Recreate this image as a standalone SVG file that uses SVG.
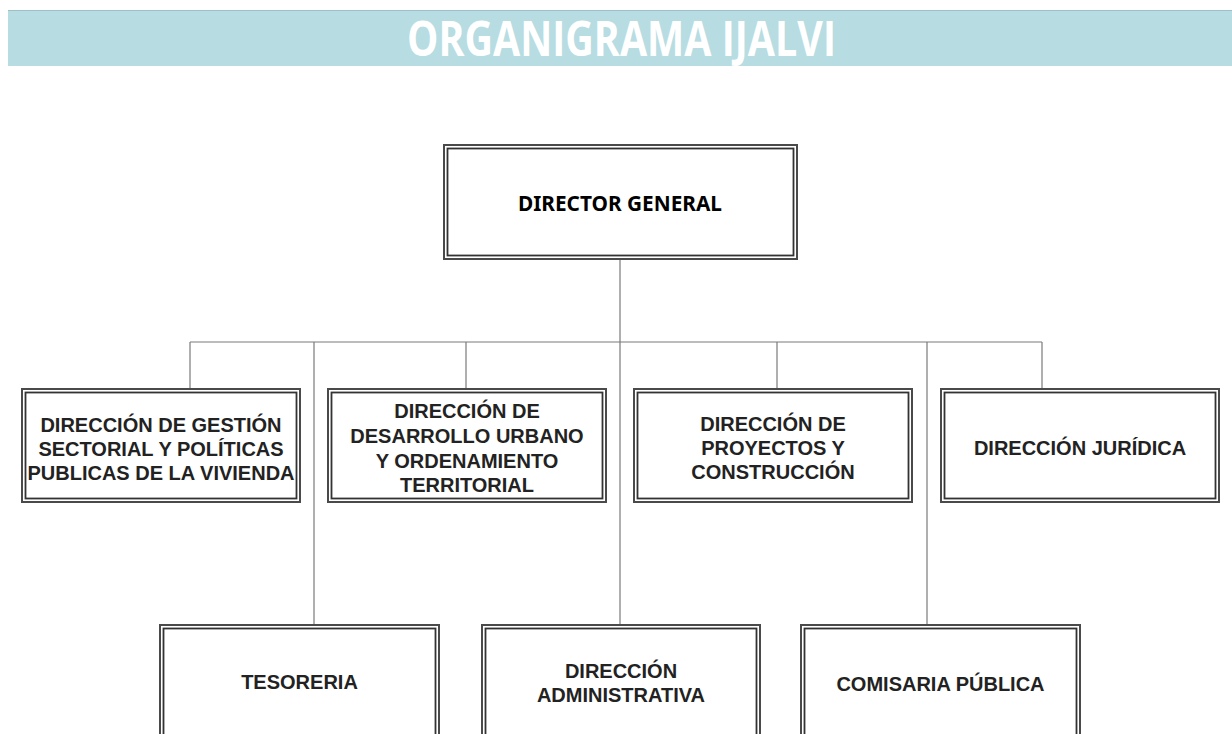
<svg xmlns="http://www.w3.org/2000/svg" width="1232" height="734" viewBox="0 0 1232 734">
<style>
.o{fill:#fff;stroke:#4a4a4a;stroke-width:2}
.i{fill:none;stroke:#333;stroke-width:1.8}
.t{font-family:"Liberation Sans",Arial,sans-serif;font-weight:bold;font-size:20px;fill:#222;text-anchor:middle}
.c{stroke:#7a7a7a;stroke-width:1.2;fill:none}
</style>
<rect x="0" y="0" width="1232" height="734" fill="#fff"/>
<g id="title">
<rect x="8" y="10" width="1224" height="56" fill="#b7dce1"/>
<line x1="8" y1="10.5" x2="1232" y2="10.5" stroke="#9fbfc4" stroke-width="1"/>
<text x="621.5" y="56" font-family="'Open Sans','Noto Sans',sans-serif" font-weight="bold" font-size="48" fill="#fff" text-anchor="middle" textLength="429" lengthAdjust="spacingAndGlyphs">ORGANIGRAMA IJALVI</text>
</g>
<g id="connectors">
<line class="c" x1="620" y1="259" x2="620" y2="625"/>
<line class="c" x1="190" y1="342" x2="1042" y2="342"/>
<line class="c" x1="190" y1="342" x2="190" y2="389"/>
<line class="c" x1="466" y1="342" x2="466" y2="389"/>
<line class="c" x1="777" y1="342" x2="777" y2="389"/>
<line class="c" x1="1042" y1="342" x2="1042" y2="389"/>
<line class="c" x1="314" y1="342" x2="314" y2="625"/>
<line class="c" x1="927" y1="342" x2="927" y2="625"/>
</g>
<g id="director-general">
<rect class="o" x="444" y="145" width="353" height="114"/>
<rect class="i" x="447.5" y="148.5" width="346" height="107"/>
<text x="620" y="211" font-family="'Noto Sans','Open Sans',sans-serif" font-weight="bold" font-size="21" fill="#000" text-anchor="middle" textLength="204" lengthAdjust="spacingAndGlyphs">DIRECTOR GENERAL</text>
</g>
<g id="dir-gestion">
<rect class="o" x="22" y="389" width="278" height="113"/>
<rect class="i" x="25.5" y="392.5" width="271" height="106"/>
<text class="t" x="161" y="432">DIRECCIÓN DE GESTIÓN</text>
<text class="t" x="161" y="456">SECTORIAL Y POLÍTICAS</text>
<text class="t" x="161" y="480">PUBLICAS DE LA VIVIENDA</text>
</g>
<g id="dir-desarrollo">
<rect class="o" x="328" y="389" width="278" height="113"/>
<rect class="i" x="331.5" y="392.5" width="271" height="106"/>
<text class="t" x="467" y="418">DIRECCIÓN DE</text>
<text class="t" x="467" y="443">DESARROLLO URBANO</text>
<text class="t" x="467" y="468">Y ORDENAMIENTO</text>
<text class="t" x="467" y="492">TERRITORIAL</text>
</g>
<g id="dir-proyectos">
<rect class="o" x="634" y="389" width="278" height="113"/>
<rect class="i" x="637.5" y="392.5" width="271" height="106"/>
<text class="t" x="773" y="431">DIRECCIÓN DE</text>
<text class="t" x="773" y="455">PROYECTOS Y</text>
<text class="t" x="773" y="479">CONSTRUCCIÓN</text>
</g>
<g id="dir-juridica">
<rect class="o" x="941" y="389" width="278" height="113"/>
<rect class="i" x="944.5" y="392.5" width="271" height="106"/>
<text class="t" x="1080" y="455">DIRECCIÓN JURÍDICA</text>
</g>
<g id="tesoreria">
<rect class="o" x="160" y="625" width="279" height="125"/>
<rect class="i" x="163.5" y="628.5" width="272" height="125"/>
<text class="t" x="299.5" y="689">TESORERIA</text>
</g>
<g id="dir-administrativa">
<rect class="o" x="482" y="625" width="278" height="125"/>
<rect class="i" x="485.5" y="628.5" width="271" height="125"/>
<text class="t" x="621" y="678">DIRECCIÓN</text>
<text class="t" x="621" y="702">ADMINISTRATIVA</text>
</g>
<g id="comisaria">
<rect class="o" x="801" y="625" width="279" height="125"/>
<rect class="i" x="804.5" y="628.5" width="272" height="125"/>
<text class="t" x="940.5" y="691">COMISARIA PÚBLICA</text>
</g>
</svg>
